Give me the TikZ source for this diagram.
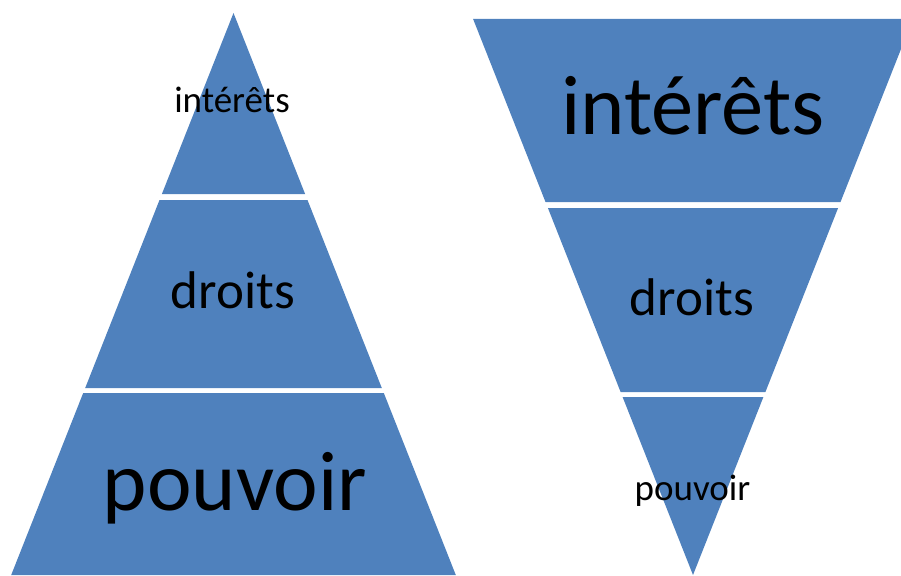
\documentclass[tikz,border=0pt]{standalone}
\usepackage{fontspec}
\setmainfont{Carlito}
\usepackage{tikz}
\definecolor{bandblue}{HTML}{4F81BD}

\begin{document}
\begin{tikzpicture}[x=1pt,y=-1pt,
  band/.style={fill=bandblue,draw=none},
  lbl/.style={anchor=base,inner sep=0pt,text=black},
  small/.style={lbl,font=\fontsize{37}{41}\selectfont},
  mid/.style={lbl,font=\fontsize{53}{59}\selectfont},
  big/.style={lbl,font=\fontsize{84.5}{92}\selectfont}]
\useasboundingbox (0,0) rectangle (901,575);
\clip (0,0) rectangle (901,575);
% pyramid, apex up
\fill[band] (233.5,13) -- (305.1,194) -- (161.9,194) -- cycle;
\fill[band] (159.5,200) -- (307.5,200) -- (381.8,388) -- (85.2,388) -- cycle;
\fill[band] (83.2,393) -- (383.8,393) -- (455.8,575) -- (11.2,575) -- cycle;
\node[small] (lint) at (232,113) {intérêts};
\node[mid] (ldro) at (233,308) {droits};
\node[big] (lpou) at (235,510) {pouvoir};
% pyramid, apex down
\fill[band] (473.1,19) -- (912.9,19) -- (840.5,202) -- (545.5,202) -- cycle;
\fill[band] (547.9,208) -- (838.1,208) -- (765.4,392) -- (620.6,392) -- cycle;
\fill[band] (622.6,397) -- (763.4,397) -- (693,575) -- cycle;
\node[big] (rint) at (693,135) {intérêts};
\node[mid] (rdro) at (692,315) {droits};
\node[small] (rpou) at (692.5,500) {pouvoir};
\end{tikzpicture}
\end{document}
